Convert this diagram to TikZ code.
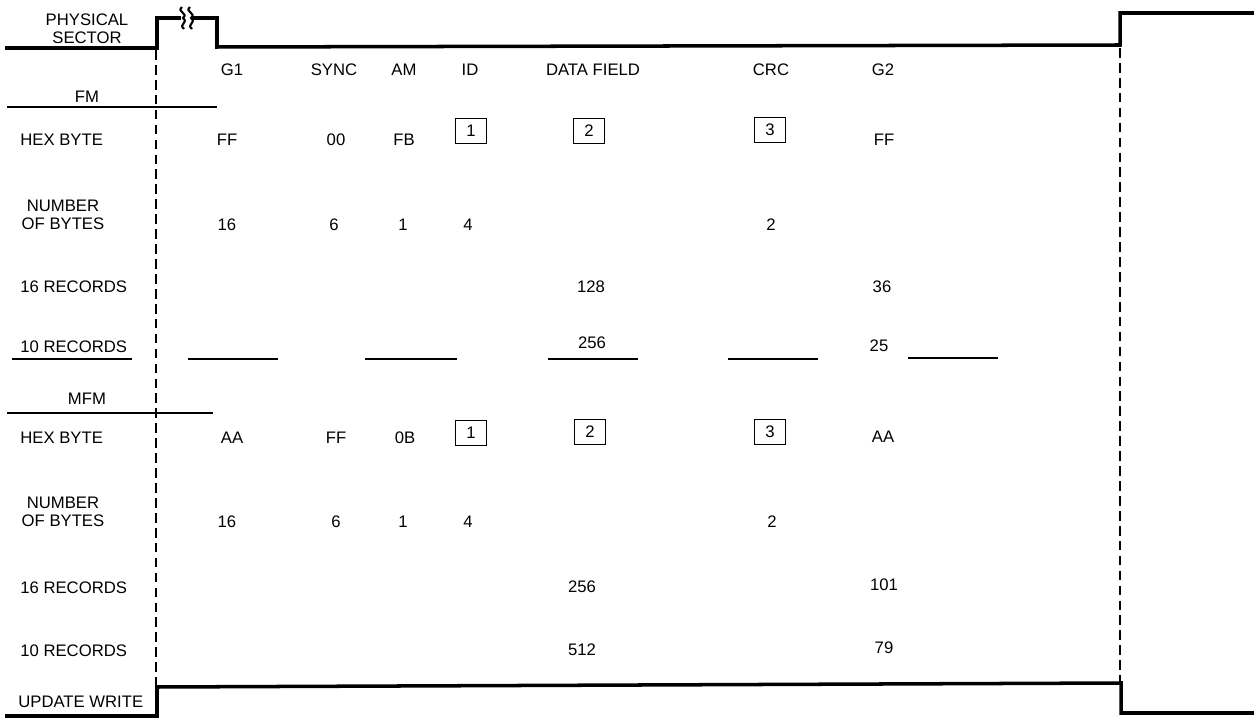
\documentclass[tikz,border=0pt]{standalone}
\usepackage{fontspec}
\setmainfont{Liberation Sans}
\begin{document}
\begin{tikzpicture}[x=0.02cm,y=-0.02cm,
  lbl/.style={font=\fontsize{9.5}{10.5}\selectfont, inner sep=0pt},
  rowlbl/.style={lbl, anchor=west},
  numbox/.style={lbl, draw, line width=0.7pt, minimum width=17.5pt, minimum height=14.5pt},
  wave/.style={line width=2pt, line join=miter},
  brk/.style={line width=1.2pt},
  thin/.style={line width=0.8pt},
  marker/.style={line width=0.85pt, dash pattern=on 5.5pt off 3pt}
]
\useasboundingbox (0,0) rectangle (1254,719);

% waveforms
\coordinate (ps0) at (5,48);
\coordinate (ps1) at (157,48);
\coordinate (ps2) at (157,18);
\coordinate (ps3) at (181,18);
\coordinate (ps4) at (192,18);
\coordinate (ps5) at (217,18);
\coordinate (ps6) at (217,47);
\coordinate (ps7) at (1120,45);
\coordinate (ps8) at (1120,13);
\coordinate (ps9) at (1254,13);
\draw[wave] (ps0) -- (ps1) -- (ps2) -- (ps3);
\draw[brk] (ps3) ++(1,-11) .. controls +(-6,5) and +(6,-5) .. ++(1,11) .. controls +(6,5) and +(-6,-5) .. ++(1,11);
\draw[brk] (ps4) ++(-2,-11) .. controls +(-6,5) and +(6,-5) .. ++(1,11) .. controls +(6,5) and +(-6,-5) .. ++(1,11);
\draw[wave] (ps4) -- (ps5) -- (ps6) -- (ps7) -- (ps8) -- (ps9);

\coordinate (uw0) at (5,716);
\coordinate (uw1) at (157,716);
\coordinate (uw2) at (157,687);
\coordinate (uw3) at (1121,683);
\coordinate (uw4) at (1121,713);
\coordinate (uw5) at (1254,713);
\draw[wave] (uw0) -- (uw1) -- (uw2) -- (uw3) -- (uw4) -- (uw5);

% dashed markers
\coordinate (dl0) at (156,50);
\coordinate (dl1) at (156,686);
\coordinate (dr0) at (1120,48);
\coordinate (dr1) at (1120,682);
\draw[marker] (dl0) -- (dl1);
\draw[marker] (dr0) -- (dr1);

% left labels
\node[lbl, align=center] (phys) at (87,29) {PHYSICAL\\SECTOR};
\node[lbl] (fm) at (87,97) {FM};
\coordinate (fml0) at (7,107); \coordinate (fml1) at (217,107);
\draw[thin] (fml0) -- (fml1);
\node[rowlbl] (hex1) at (20,140) {HEX BYTE};
\node[lbl, align=center] (nob1) at (63,215) {NUMBER\\OF BYTES};
\node[rowlbl] (r16a) at (20,287) {16 RECORDS};
\node[rowlbl] (r10a) at (20,347) {10 RECORDS};
\coordinate (u0) at (12,359); \coordinate (u1) at (132,359);
\draw[thin] (u0) -- (u1);
\node[lbl] (mfm) at (87,399) {MFM};
\coordinate (mfl0) at (7,413); \coordinate (mfl1) at (213,413);
\draw[thin] (mfl0) -- (mfl1);
\node[rowlbl] (hex2) at (20,438) {HEX BYTE};
\node[lbl, align=center] (nob2) at (63,512) {NUMBER\\OF BYTES};
\node[rowlbl] (r16b) at (20,588) {16 RECORDS};
\node[rowlbl] (r10b) at (20,651) {10 RECORDS};
\node[rowlbl] (uw) at (18,702) {UPDATE WRITE};

% headers
\node[lbl] (hG1) at (232,70) {G1};
\node[lbl] (hSY) at (334,70) {SYNC};
\node[lbl] (hAM) at (404,70) {AM};
\node[lbl] (hID) at (470,70) {ID};
\node[lbl] (hDF) at (593,70) {DATA FIELD};
\node[lbl] (hCR) at (771,70) {CRC};
\node[lbl] (hG2) at (883,70) {G2};

% FM hex
\node[lbl] (fh1) at (227,140) {FF};
\node[lbl] (fh2) at (336,140) {00};
\node[lbl] (fh3) at (404,140) {FB};
\node[numbox] (fb1) at (471,131) {1};
\node[numbox] (fb2) at (589,131) {2};
\node[numbox] (fb3) at (770,130) {3};
\node[lbl] (fh7) at (884,140) {FF};
% FM number of bytes
\node[lbl] (fn1) at (227,225) {16};
\node[lbl] (fn2) at (334,225) {6};
\node[lbl] (fn3) at (403,225) {1};
\node[lbl] (fn4) at (468,225) {4};
\node[lbl] (fn6) at (771,225) {2};
% FM records
\node[lbl] (f16d) at (591,287) {128};
\node[lbl] (f16g) at (882,287) {36};
\node[lbl] (f10d) at (592,343) {256};
\node[lbl] (f10g) at (879,346) {25};
\coordinate (s1a) at (188,359); \coordinate (s1b) at (278,359);
\coordinate (s2a) at (365,359); \coordinate (s2b) at (457,359);
\coordinate (s3a) at (548,359); \coordinate (s3b) at (638,359);
\coordinate (s4a) at (728,359); \coordinate (s4b) at (818,359);
\coordinate (s5a) at (908,358); \coordinate (s5b) at (998,358);
\draw[thin] (s1a) -- (s1b);
\draw[thin] (s2a) -- (s2b);
\draw[thin] (s3a) -- (s3b);
\draw[thin] (s4a) -- (s4b);
\draw[thin] (s5a) -- (s5b);

% MFM hex
\node[lbl] (mh1) at (232,438) {AA};
\node[lbl] (mh2) at (336,438) {FF};
\node[lbl] (mh3) at (405,438) {0B};
\node[numbox] (mb1) at (471,433) {1};
\node[numbox] (mb2) at (590,432) {2};
\node[numbox] (mb3) at (770,432) {3};
\node[lbl] (mh7) at (883,437) {AA};
% MFM number of bytes
\node[lbl] (mn1) at (227,522) {16};
\node[lbl] (mn2) at (336,522) {6};
\node[lbl] (mn3) at (403,522) {1};
\node[lbl] (mn4) at (468,522) {4};
\node[lbl] (mn6) at (772,522) {2};
% MFM records
\node[lbl] (m16d) at (582,587) {256};
\node[lbl] (m16g) at (884,585) {101};
\node[lbl] (m10d) at (582,650) {512};
\node[lbl] (m10g) at (884,648) {79};
\end{tikzpicture}
\end{document}
